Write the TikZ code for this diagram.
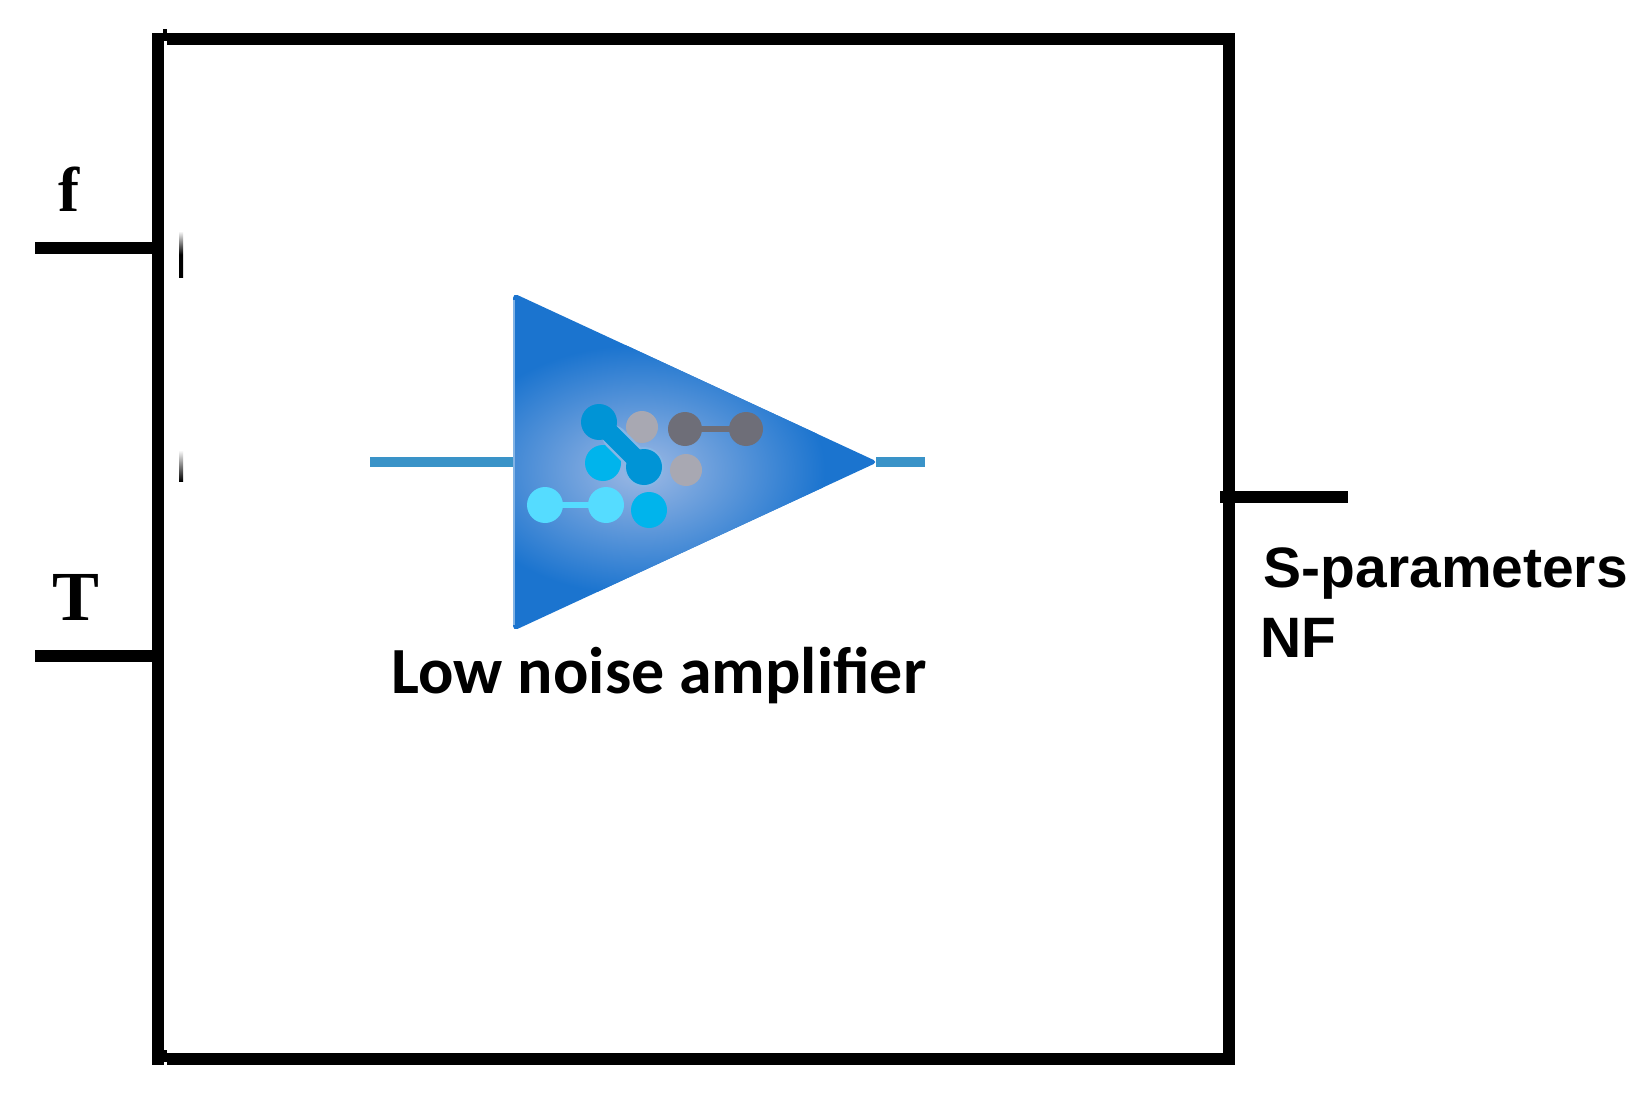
\documentclass[tikz,border=0pt]{standalone}
\usepackage{fontspec}
\setmainfont{Liberation Serif}
\newfontfamily\labelsans{Liberation Sans}
\newfontfamily\ampsans{Carlito}
\usetikzlibrary{calc}
\definecolor{wirecol}{HTML}{3A93C8}
\definecolor{tricol}{HTML}{1B74CF}
\definecolor{glowcol}{HTML}{9DB9E4}
\definecolor{haloc}{HTML}{86B6E6}
\definecolor{tealA}{HTML}{0094D6}
\definecolor{cyanA}{HTML}{00B4EC}
\definecolor{cyanB}{HTML}{55DCFF}
\definecolor{greyA}{HTML}{A8A8B2}
\definecolor{greyB}{HTML}{6E6E78}
\tikzset{
  x=0.01cm,y=-0.01cm,
  thickline/.style={line width=0.12cm,black,line cap=butt},
  wireline/.style={line width=0.095cm,wirecol},
  dotlink/.style={line width=0.06cm},
  dotlinkwide/.style={line width=0.19cm,line cap=round},
  inlabel/.style={anchor=base,inner sep=0pt,font=\bfseries\fontsize{20}{24}\selectfont},
  flabelstyle/.style={anchor=base,inner sep=0pt,font=\bfseries\fontsize{18}{22}\selectfont},
  outlabel/.style={anchor=base west,inner sep=0pt,font=\labelsans\bfseries\fontsize{16.2}{20}\selectfont},
  amplabel/.style={anchor=base west,inner sep=0pt,font=\ampsans\bfseries\fontsize{18.75}{23}\selectfont}
}
\begin{document}
\begin{tikzpicture}
\useasboundingbox (0,0) rectangle (1651,1097);
\fill[white] (0,0) rectangle (1651,1097);
% box
\coordinate (tl) at (158,33);
\coordinate (bl) at (158,1065);
\coordinate (tlb) at (167,39);
\coordinate (tr) at (1229,39);
\coordinate (br) at (1229,1059);
\coordinate (blb) at (167,1059);
\draw[thickline] (tl) -- (bl);
\draw[thickline] (tlb) -- (tr) -- (br) -- (blb);
\fill[black] (163,29) rectangle (167,41);
\fill[black] (163,1050) rectangle (167,1062);
% stubs
\coordinate (fa) at (35,248);
\coordinate (fb) at (152,248);
\coordinate (ta) at (35,656);
\coordinate (tb) at (152,656);
\coordinate (oa) at (1220,497);
\coordinate (ob) at (1348,497);
\draw[thickline] (fa) -- (fb);
\draw[thickline] (ta) -- (tb);
\draw[thickline] (oa) -- (ob);
\shade[top color=white,bottom color=black,middle color=black] (179,231) rectangle (183,278);
\shade[top color=white,bottom color=black] (179,450) rectangle (183,481);
% amplifier wires
\coordinate (wa) at (370,462);
\coordinate (wb) at (513,462);
\coordinate (wc) at (876,462);
\coordinate (wd) at (925,462);
\draw[wireline] (wa) -- (wb);
\draw[wireline] (wc) -- (wd);
% triangle
\coordinate (p1) at (513,293);
\coordinate (p2) at (513,631);
\coordinate (p3) at (878,462);
\fill[tricol,rounded corners=0.05cm] (p1) -- (p3) -- (p2) -- cycle;
\begin{scope}
  \clip (p1) -- (p3) -- (p2) -- cycle;
  \shade[inner color=glowcol,outer color=tricol] (640,470) ellipse [x radius=185,y radius=125];
\end{scope}
\draw[line width=0.025cm,color=tricol!55!white] (514,300) -- (514,625);
% dots
\coordinate (c1) at (599,422);
\coordinate (c2) at (644,467);
\coordinate (c3) at (603,463);
\coordinate (c4) at (649,510);
\coordinate (c5) at (545,505);
\coordinate (c6) at (606,505);
\coordinate (c7) at (642,427);
\coordinate (c8) at (686,470);
\coordinate (c9) at (685,429);
\coordinate (c10) at (746,429);
\draw[greyB,dotlink] (c9) -- (c10);
\draw[cyanB,dotlink] (c5) -- (c6);
\fill[greyA] (c7) circle (16) (c8) circle (16);
\fill[cyanA] (c3) circle (18) (c4) circle (18);
\fill[haloc] (c2) circle (20);
\draw[haloc,dotlinkwide,line width=0.24cm] ($(c1)!0.35!(c2)$) -- (c2);
\draw[tealA,dotlinkwide] (c1) -- (c2);
\fill[tealA] (c1) circle (18) (c2) circle (18);
\fill[greyB] (c9) circle (17) (c10) circle (17);
\fill[cyanB] (c5) circle (18) (c6) circle (18);
% labels
\node[flabelstyle] (flabel) at (69,212) {f};
\node[inlabel] (tlabel) at (76,620) {T};
\node[outlabel] (splabel) at (1263,587) {S-parameters};
\node[outlabel] (nflabel) at (1260,657) {NF};
\node[amplabel] (amp) at (391,693) {Low noise amplifier};
\end{tikzpicture}
\end{document}
